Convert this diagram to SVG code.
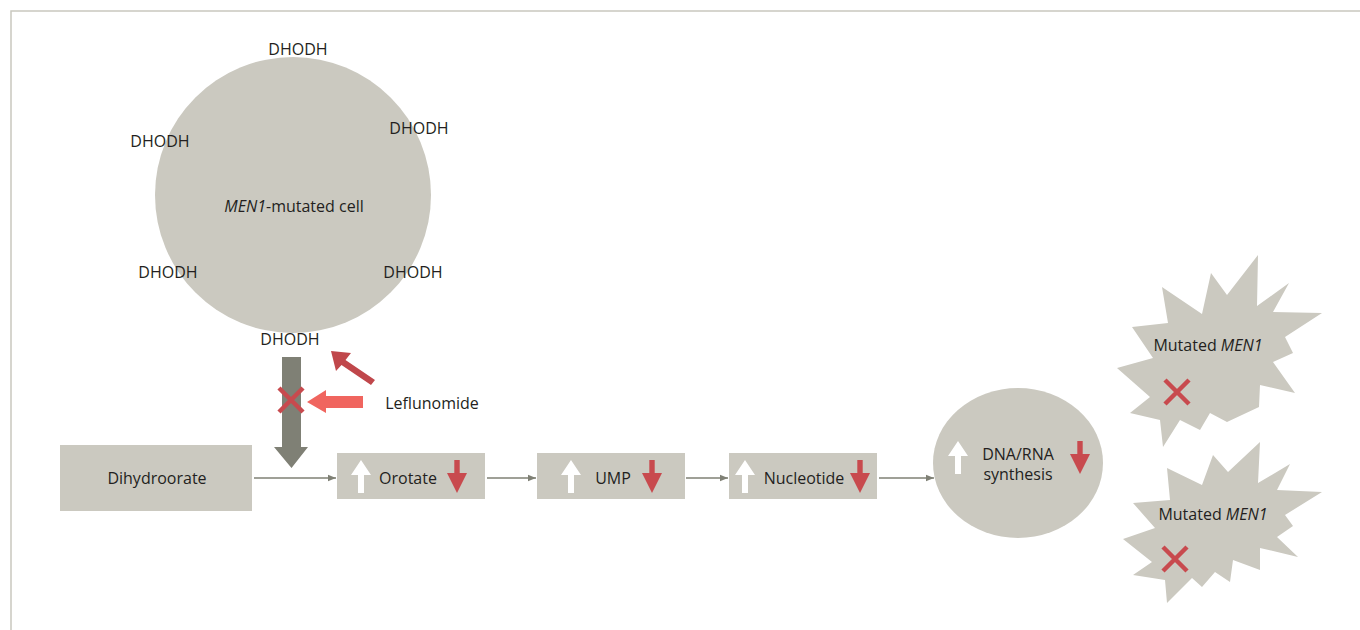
<svg xmlns="http://www.w3.org/2000/svg" width="1360" height="630" viewBox="0 0 1360 630">
<defs>
<style>
.t{font-family:"Open Sans","Noto Sans","Liberation Sans",sans-serif;font-size:16px;fill:#231f20;text-anchor:middle}
.it{font-style:italic}
.shape{fill:#cbc9c0}
.conn{stroke:#7f8075;stroke-width:1.3;fill:none}
.up{fill:#ffffff}
.dn{fill:#c84a4e}
.x{stroke:#c84a4e;stroke-width:4.5;fill:none}
</style>
<marker id="ah" viewBox="0 0 10 10" refX="10" refY="5" markerWidth="8" markerHeight="8" markerUnits="userSpaceOnUse" orient="auto">
<path d="M0,1 L10,5 L0,9 Z" fill="#7f8075"/>
</marker>
<path id="uparrow" d="M0,0 L10,15 L3,15 L3,33 L-3,33 L-3,15 L-10,15 Z"/>
<path id="dnarrow" d="M0,0 L-10,-20 L-2.7,-20 L-2.7,-33 L2.7,-33 L2.7,-20 L10,-20 Z"/>
</defs>
<rect x="11" y="11" width="1400" height="700" fill="none" stroke="#c9c8bf" stroke-width="1.5"/>

<g id="cell">
<circle class="shape" cx="293" cy="195" r="138"/>
<text class="t" x="294" y="212"><tspan class="it">MEN1</tspan>-mutated cell</text>
<text class="t" x="298" y="55">DHODH</text>
<text class="t" x="160" y="147">DHODH</text>
<text class="t" x="419" y="134">DHODH</text>
<text class="t" x="168" y="278">DHODH</text>
<text class="t" x="413" y="278">DHODH</text>
<text class="t" x="290" y="345">DHODH</text>
</g>

<g id="inhibition">
<path d="M282,357 L301,357 L301,447 L308,447 L291.5,468 L274,447 L282,447 Z" fill="#7f8075"/>
<path class="x" d="M279,388 L303,412 M303,388 L279,412"/>
<path d="M363,396 L326,396 L326,390 L307,402 L326,413 L326,408 L363,408 Z" fill="#f0655f"/>
<path d="M331,351 L351,353 L345.5,360 L375,380 L371,385 L341.5,365 L336,371 Z" fill="#c0474b"/>
<text class="t" x="432" y="409">Leflunomide</text>
</g>

<g id="dihydroorate">
<rect class="shape" x="60" y="445" width="192" height="66"/>
<text class="t" x="157" y="484">Dihydroorate</text>
</g>

<g id="orotate">
<rect class="shape" x="337" y="453" width="148" height="46"/>
<use href="#uparrow" class="up" x="361" y="460"/>
<text class="t" x="408" y="484">Orotate</text>
<use href="#dnarrow" class="dn" x="457" y="493"/>
</g>

<g id="ump">
<rect class="shape" x="537" y="453" width="148" height="46"/>
<use href="#uparrow" class="up" x="571" y="460"/>
<text class="t" x="613" y="484">UMP</text>
<use href="#dnarrow" class="dn" x="652" y="493"/>
</g>

<g id="nucleotide">
<rect class="shape" x="729" y="453" width="148" height="46"/>
<use href="#uparrow" class="up" x="745" y="460"/>
<text class="t" x="804" y="484">Nucleotide</text>
<use href="#dnarrow" class="dn" x="860" y="493"/>
</g>

<g id="synthesis">
<ellipse class="shape" cx="1018" cy="463" rx="85" ry="75"/>
<use href="#uparrow" class="up" x="958" y="441"/>
<text class="t" x="1018" y="460">DNA/RNA</text>
<text class="t" x="1018" y="480">synthesis</text>
<use href="#dnarrow" class="dn" x="1080" y="474"/>
</g>

<g id="mutated1">
<polygon class="shape" points="1258,255 1257,306 1289,283 1273,312 1322,313 1285,337 1293,353 1273,362 1295,393 1260,385 1259,407 1227,422 1210,413 1200,430 1180,420 1163,447 1160,420 1130,413 1150,397 1117,368 1153,358 1132,327 1168,323 1162,287 1202,314 1211,273 1227,295"/>
<text class="t" x="1208" y="351">Mutated <tspan class="it">MEN1</tspan></text>
<path class="x" d="M1165,380 L1189,404 M1189,380 L1165,404"/>
</g>

<g id="mutated2">
<polygon class="shape" points="1260,442 1258,483 1290,464 1277,490 1322,492 1285,515 1293,526 1277,537 1298,557 1260,548 1260,570 1233,560 1230,582 1215,572 1202,587 1192,578 1167,603 1165,580 1133,575 1152,562 1123,539 1155,528 1133,503 1170,500 1167,468 1202,485 1213,455 1228,472"/>
<text class="t" x="1213" y="520">Mutated <tspan class="it">MEN1</tspan></text>
<path class="x" d="M1163,547 L1187,571 M1187,547 L1163,571"/>
</g>

<g id="connectors">
<line class="conn" x1="254" y1="478" x2="336" y2="478" marker-end="url(#ah)"/>
<line class="conn" x1="487" y1="478" x2="536" y2="478" marker-end="url(#ah)"/>
<line class="conn" x1="686" y1="478" x2="728" y2="478" marker-end="url(#ah)"/>
<line class="conn" x1="879" y1="478" x2="934" y2="478" marker-end="url(#ah)"/>
</g>
</svg>
